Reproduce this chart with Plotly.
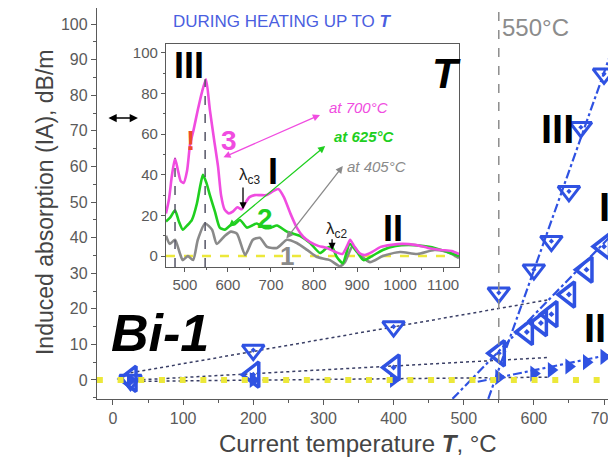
import plotly.graph_objects as go

# ---------------- main panel data (T in degC, IA in dB/m) ----------------
T_III = [25, 200, 400, 550, 600, 625, 650, 667, 700]
IA_III = [0.0, 8.4, 15.0, 24.5, 31.0, 39.0, 53.0, 71.0, 86.0]
T_I = [25, 200, 400, 550, 590, 610, 625, 650, 675, 700]
IA_I = [0.3, 1.5, 3.5, 7.5, 13.5, 16.0, 18.5, 24.0, 31.0, 37.5]
T_II = [25, 200, 400, 550, 600, 625, 650, 675, 700]
IA_II = [0.0, 0.0, 0.0, 0.8, 1.8, 2.8, 3.8, 5.0, 6.5]

TREND_T = [25, 620]          # low-temperature dotted trends
TREND_III = [2.0, 22.5]
TREND_I = [-0.1, 6.3]
TREND_II = [-0.4, 0.8]
FIT_III_T = [535, 730]       # high-temperature dash-dot fits
FIT_III = [-5.3, 103.0]
FIT_I_T = [484, 730]
FIT_I = [-5.3, 44.6]
FIT_II_T = [520, 730]
FIT_II = [-0.5, 8.0]
ZERO_T = [-23, 730]
ZERO_IA = [0, 0]
T_CRIT = 550
MAIN_T_RANGE = [-22.8, 728.5]
MAIN_IA_RANGE = [-5.34, 104.5]

# ---------------- inset data (wavelength nm, IA dB/m) ----------------
WL_3 = [456, 463, 470, 477, 484, 490, 497, 505, 512, 520, 530, 540, 549, 558, 568, 577,
        584, 592, 602, 612, 622, 632, 640, 650, 662, 675, 690, 705, 717, 730, 745, 760,
        775, 790, 810, 830, 850, 866, 877, 884, 893, 905, 918, 935, 955, 980, 1005, 1035,
        1065, 1095, 1120, 1137]
IA_3 = [21, 28, 40, 48, 42, 37, 36, 42, 55, 62, 72, 81, 87, 72, 57, 44,
        30, 23, 21, 22, 24, 23, 26, 29, 30, 30, 30, 32, 33, 29, 21, 14,
        9.5, 7, 5, 4, 2, 1, 5, 8, 5, 1.5, 0.5, 2, 4.5, 5.5, 6, 5.5,
        4, 3, 2.5, 1]
WL_2 = [456, 466, 477, 486, 495, 505, 516, 528, 536, 542, 550, 558, 570, 581, 593, 605,
        617, 628, 644, 656, 667, 686, 700, 714, 737, 752, 767, 791, 814, 830, 842, 853,
        867, 883, 900, 915, 935, 960, 990, 1020, 1050, 1080, 1110, 1137]
IA_2 = [17, 19, 22.5, 17, 13, 15, 17.7, 26, 35, 40, 36, 30, 21.7, 14, 13, 15,
        16, 17.7, 14, 15, 16, 13.8, 14, 15, 12, 11, 10, 6.4, 1.5, 4, 4.5, -0.5,
        -3.5, 6, 2, -2, 0, 3, 5, 5.5, 5, 4, 2, 0]
WL_1 = [456, 465, 477, 488, 495, 507, 519, 530, 547, 563, 574, 593, 607, 621, 640, 658,
        674, 691, 714, 737, 760, 784, 807, 837, 860, 872, 890, 910, 930, 960, 1000, 1040,
        1080, 1110, 1137]
IA_1 = [10, 6, 8, 1.5, -2, 0, -2, 8, 16, 13, 6, 10, 12, 11, 0.5, 8,
        9, 4.5, 4, 8, 6.4, 3, -0.5, -2, -5, -3, 5, 0, -3, 0, 2, 1,
        3, 2, -1]
PEAK_WL = [477, 547]
PEAK_TOP = [48, 87]
INSET_WL_RANGE = [456, 1137]
INSET_IA_RANGE = [-5.4, 104.4]

FONT = "Arial, Liberation Sans, sans-serif"
BLUE = "#2f52e2"
AX = "#5a5a5a"
MAG = "#f04ce0"
GRN = "#1fcf1f"
GRY = "#8a8a8a"
YEL = "#ece83a"

fig = go.Figure()

# --- main panel traces ---
for y in (TREND_III, TREND_I, TREND_II):
    fig.add_trace(go.Scatter(x=TREND_T, y=y, mode="lines",
                             line=dict(color="#3a3f66", width=1.5, dash="dot"),
                             showlegend=False, hoverinfo="skip"))
for xs, ys in ((FIT_III_T, FIT_III), (FIT_I_T, FIT_I), (FIT_II_T, FIT_II)):
    fig.add_trace(go.Scatter(x=xs, y=ys, mode="lines",
                             line=dict(color=BLUE, width=2.2, dash="dashdot"),
                             showlegend=False, hoverinfo="skip"))
fig.add_trace(go.Scatter(x=T_II, y=IA_II, mode="markers",
                         marker=dict(symbol="triangle-right", size=14, color=BLUE),
                         showlegend=False))
fig.add_trace(go.Scatter(x=T_I, y=IA_I, mode="markers",
                         marker=dict(symbol="triangle-left-open-dot", size=22, color=BLUE,
                                     line=dict(width=3.5, color=BLUE)),
                         showlegend=False))
fig.add_trace(go.Scatter(x=T_III, y=IA_III, mode="markers",
                         marker=dict(symbol="triangle-down-open-dot", size=19, color=BLUE,
                                     line=dict(width=3, color=BLUE)),
                         showlegend=False))
fig.add_trace(go.Scatter(x=[T_CRIT, T_CRIT], y=MAIN_IA_RANGE, mode="lines",
                         line=dict(color="#8c8c8c", width=1.5, dash="dash"),
                         showlegend=False, hoverinfo="skip"))
fig.add_trace(go.Scatter(x=ZERO_T, y=ZERO_IA, mode="lines",
                         line=dict(color=YEL, width=6, dash="6px,14.7px"),
                         showlegend=False, hoverinfo="skip"))

# --- inset traces ---
fig.add_trace(go.Scatter(x=INSET_WL_RANGE, y=[0, 0], mode="lines", xaxis="x2", yaxis="y2",
                         line=dict(color=YEL, width=2.5, dash="dash"), showlegend=False))
for xs, ys, c in ((WL_1, IA_1, GRY), (WL_2, IA_2, GRN), (WL_3, IA_3, MAG)):
    fig.add_trace(go.Scatter(x=xs, y=ys, mode="lines", xaxis="x2", yaxis="y2",
                             line=dict(color=c, width=2.6, shape="spline", smoothing=0.6),
                             showlegend=False))
for wl, top in zip(PEAK_WL, PEAK_TOP):
    fig.add_trace(go.Scatter(x=[wl, wl], y=[INSET_IA_RANGE[0], top], mode="lines",
                             xaxis="x2", yaxis="y2",
                             line=dict(color="#555566", width=1.5, dash="dash"),
                             showlegend=False))

ann = []


def txt(x, y, text, size, color="black", ref="", bold=False, italic=False, **kw):
    t = text
    if italic:
        t = "<i>" + t + "</i>"
    if bold:
        t = "<b>" + t + "</b>"
    ann.append(dict(x=x, y=y, xref="x" + ref, yref="y" + ref, text=t, showarrow=False,
                    font=dict(family=FONT, size=size, color=color), **kw))


def arrow(x0, y0, x1, y1, color, ref="", both=False, width=1.3):
    ann.append(dict(x=x1, y=y1, ax=x0, ay=y0, xref="x" + ref, yref="y" + ref,
                    axref="x" + ref, ayref="y" + ref, text="", showarrow=True,
                    arrowhead=2, arrowsize=1.1, arrowwidth=width, arrowcolor=color,
                    arrowside="end+start" if both else "end",
                    startarrowhead=2, startarrowsize=1.1))


# main texts
txt(241, 100.8, "DURING HEATING UP TO <b><i>T</i></b>", 17, "#4a5ee0")
txt(603, 99, "550°C", 24, "#8c8c8c")
txt(67, 13.2, "Bi-1", 52, bold=True, italic=True)
txt(633, 70.5, "III", 40, bold=True)
txt(700, 48.6, "I", 40, bold=True)
txt(687, 14.6, "II", 40, bold=True)
arrow(-8.6, 73.6, 35.6, 73.6, "black", both=True, width=1.5)

# inset texts
txt(509, 93.6, "III", 36, ref="2", bold=True)
txt(1109, 90, "T", 42, ref="2", bold=True, italic=True)
txt(512, 57, "!", 28, "#ee4a2a", ref="2", bold=True)
txt(602, 57, "3", 28, MAG, ref="2", bold=True)
txt(705, 41.4, "I", 36, ref="2", bold=True)
txt(649, 39.4, "λ<sub>c3</sub>", 17, "#222222", ref="2")
arrow(635, 34.5, 635, 23, "black", ref="2")
txt(686, 18.7, "2", 28, GRN, ref="2", bold=True)
txt(737, 0, "1", 26, GRY, ref="2", bold=True)
txt(853, 12.8, "λ<sub>c2</sub>", 17, "#222222", ref="2")
arrow(842, 9, 842, 3, "black", ref="2")
txt(984, 13.8, "II", 36, ref="2", bold=True)
txt(830, 72.9, "at 700°C", 15, MAG, ref="2", italic=True, xanchor="left")
txt(842, 59, "at 625°C", 15, GRN, ref="2", italic=True, bold=True, xanchor="left")
txt(872, 44.3, "at 405°C", 15, GRY, ref="2", italic=True, xanchor="left")
arrow(586, 48.3, 814, 69.5, MAG, ref="2", both=True)
arrow(598, 13.8, 826, 54.2, GRN, ref="2", both=True)
arrow(733, 7.9, 867, 44.3, GRY, ref="2", both=True)

# axis titles
txt(800, -22.2, "Wavelength, nm", 22, "#444444", ref="2")
ann.append(dict(x=-0.1271, y=0.5038, xref="paper", yref="paper", textangle=-90,
                text="Induced absorption (IA), dB/m", showarrow=False,
                font=dict(family=FONT, size=23, color="#444444")))
ann.append(dict(x=0.4953, y=-0.1535, xref="paper", yref="paper",
                text="Current temperature <b><i>T</i></b>, °C", showarrow=False,
                font=dict(family=FONT, size=24, color="#444444")))

axis_common = dict(showline=True, linecolor=AX, linewidth=1.3, ticks="outside",
                   tickcolor=AX, showgrid=False, zeroline=False)

fig.update_layout(
    width=616, height=475,
    margin=dict(l=89, r=0, t=0, b=84),
    paper_bgcolor="white", plot_bgcolor="white",
    xaxis=dict(range=MAIN_T_RANGE, dtick=100, tick0=0, ticklen=5, mirror=True,
               minor=dict(dtick=50, ticklen=3, ticks="outside", tickcolor=AX),
               tickfont=dict(family=FONT, color=AX, size=16), **axis_common),
    yaxis=dict(range=MAIN_IA_RANGE, dtick=10, tick0=0, ticklen=5, mirror=False,
               minor=dict(dtick=5, ticklen=3, ticks="outside", tickcolor=AX),
               tickfont=dict(family=FONT, color=AX, size=16), **axis_common),
    xaxis2=dict(domain=[0.1309, 0.6869], anchor="y2", range=INSET_WL_RANGE, dtick=100,
                tick0=0, ticklen=4, mirror=True,
                minor=dict(dtick=50, ticklen=2, ticks="outside", tickcolor=AX),
                tickfont=dict(family=FONT, color=AX, size=15), **axis_common),
    yaxis2=dict(domain=[0.3376, 0.9079], anchor="x2", range=INSET_IA_RANGE, dtick=20,
                tick0=0, ticklen=4, mirror=True,
                minor=dict(dtick=10, ticklen=2, ticks="outside", tickcolor=AX),
                tickfont=dict(family=FONT, color=AX, size=15), **axis_common),
    annotations=ann,
    showlegend=False,
)

fig.write_html("out.html")
